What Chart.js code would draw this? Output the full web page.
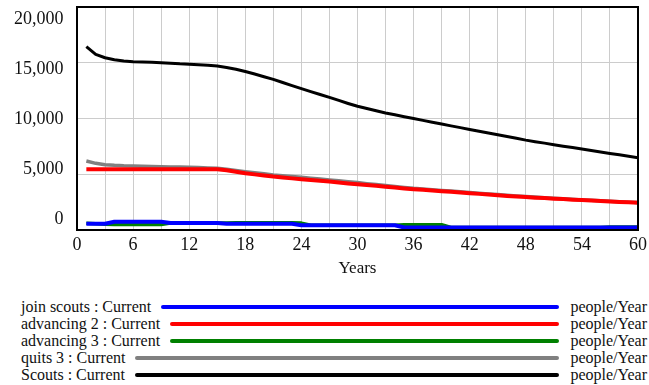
<!DOCTYPE html>
<html>
<head>
<meta charset="utf-8">
<script src="https://cdn.jsdelivr.net/npm/chart.js@4/dist/chart.umd.min.js"></script>
<style>
  html, body { margin: 0; padding: 0; background: #fff; }
  #wrap { position: relative; width: 649px; height: 385px; overflow: hidden; }
  #c { position: absolute; left: 0; top: 0; }
  #legend { position: absolute; left: 0; top: 298px; width: 649px; font-family: 'Liberation Serif', serif; font-size: 16px; color: #111; }
  .row { display: flex; align-items: center; height: 17.1px; line-height: 17px; white-space: nowrap; }
  .lab { padding-left: 21px; }
  .ln { flex: 1; height: 4px; margin: 0 11px 0 10px; border-radius: 2px; }
  .unit { padding-right: 2px; }
</style>
</head>
<body>
<div id="wrap">
  <canvas id="c" width="649" height="290"></canvas>
  <div id="legend"></div>
</div>
<script>
const years = [1,2,3,4,5,6,7,8,9,10,11,12,13,14,15,16,17,18,19,20,21,22,23,24,25,26,27,28,29,30,31,32,33,34,35,36,37,38,39,40,41,42,43,44,45,46,47,48,49,50,51,52,53,54,55,56,57,58,59,60];

const seriesNames = ["join scouts : Current", "advancing 2 : Current", "advancing 3 : Current", "quits 3 : Current", "Scouts : Current"];
const unitLabel = "people/Year";
const xTitle = "Years";

const joinScouts = [560,560,560,740,740,740,740,740,740,620,620,620,620,620,620,560,560,560,560,560,560,560,560,420,420,420,420,420,420,420,420,420,420,420,230,230,230,230,230,230,230,230,230,230,230,230,230,230,230,230,230,230,230,230,230,230,230,230,230,230];

const advancing2 = [5440,5440,5440,5440,5440,5440,5440,5440,5440,5440,5440,5440,5440,5440,5440,5360,5230,5090,4990,4890,4790,4710,4630,4550,4480,4410,4340,4260,4180,4110,4030,3960,3880,3810,3730,3660,3600,3540,3480,3420,3360,3300,3240,3180,3120,3060,3010,2950,2900,2860,2810,2770,2720,2680,2640,2600,2560,2520,2480,2440];

const advancing3 = [600,560,520,500,500,500,500,500,500,620,620,620,620,620,620,620,640,640,640,640,650,650,650,620,420,420,420,420,420,420,420,420,420,420,470,470,470,470,470,230,230,230,230,230,230,230,230,230,230,230,230,230,230,230,230,230,260,260,260,260];

const quits3 = [6190,5980,5860,5800,5760,5740,5720,5700,5680,5660,5640,5625,5600,5570,5540,5450,5340,5230,5130,5040,4940,4870,4800,4730,4650,4570,4490,4410,4330,4250,4160,4080,3990,3910,3820,3740,3680,3610,3550,3490,3420,3360,3300,3240,3180,3120,3060,3000,2950,2900,2850,2800,2750,2700,2660,2620,2580,2540,2500,2460];

const scouts = [16450,15750,15450,15270,15150,15080,15060,15040,15010,14950,14900,14870,14820,14770,14700,14580,14420,14220,13990,13750,13510,13230,12950,12680,12410,12150,11900,11620,11350,11100,10890,10690,10500,10330,10160,10000,9830,9670,9510,9340,9180,9020,8860,8700,8540,8380,8220,8060,7920,7790,7650,7520,7390,7260,7130,7000,6870,6740,6610,6480];

const yTickValues = [0, 5000, 10000, 15000, 20000];

const seriesData = [joinScouts, advancing2, advancing3, quits3, scouts];
const seriesColors = ["#0000ff", "#ff0000", "#008000", "#808080", "#000000"];
const seriesWidths = [4, 4, 3.5, 3.5, 3];

const FONT = "'Liberation Serif', serif";
const TEXT = "#111";

const datasets = seriesData.map((arr, i) => ({
  label: seriesNames[i],
  data: years.map((t, k) => ({ x: t, y: arr[k] })),
  borderColor: seriesColors[i],
  backgroundColor: seriesColors[i],
  borderWidth: seriesWidths[i],
  pointRadius: 0,
  tension: 0,
  fill: false,
  yAxisID: 'y'
}));

const framePlugin = {
  id: 'frame',
  afterDatasetsDraw(chart) {
    const a = chart.chartArea, ctx = chart.ctx;
    ctx.save();
    ctx.strokeStyle = '#000';
    ctx.lineWidth = 2;
    ctx.strokeRect(a.left, a.top, a.right - a.left, a.bottom - a.top);
    ctx.restore();
  }
};

function noPad(s) { s.paddingTop = 0; s.paddingBottom = 0; s.paddingLeft = 0; s.paddingRight = 0; }

new Chart(document.getElementById('c'), {
  type: 'line',
  data: { datasets },
  plugins: [framePlugin],
  options: {
    responsive: false,
    animation: false,
    devicePixelRatio: 1,
    layout: { padding: { top: 7, right: 11, left: 0, bottom: 0 } },
    plugins: { legend: { display: false }, tooltip: { enabled: false } },
    elements: { line: { borderCapStyle: 'butt', borderJoinStyle: 'round' } },
    scales: {
      x: {
        type: 'linear', min: 0, max: 60,
        ticks: {
          stepSize: 3, autoSkip: false, maxRotation: 0, padding: 4,
          font: { family: FONT, size: 18 }, color: TEXT,
          callback: v => (v % 6 === 0 ? String(v) : '')
        },
        grid: { color: '#cccccc', lineWidth: 1, drawTicks: false },
        border: { display: false },
        title: { display: true, text: xTitle, font: { family: FONT, size: 17 }, color: TEXT, padding: { top: 0, bottom: 11 } },
        afterFit: s => { s.height = 60; noPad(s); }
      },
      y: {
        type: 'linear', position: 'left', min: 0, max: 20000,
        ticks: { stepSize: 5000, display: false },
        grid: { color: '#cccccc', lineWidth: 1, drawTicks: false },
        border: { display: false },
        afterFit: s => { s.width = 0; noPad(s); }
      },
      yl: {
        type: 'linear', position: 'left', display: true, min: -1100, max: 21200,
        afterBuildTicks: s => { s.ticks = yTickValues.map(v => ({ value: v })); },
        ticks: {
          display: true, autoSkip: false, padding: 13.5,
          font: { family: FONT, size: 18 }, color: TEXT,
          callback: v => v.toLocaleString('en-US')
        },
        grid: { display: false, drawTicks: false },
        border: { display: false },
        afterFit: s => { s.width = 77; noPad(s); }
      }
    }
  }
});

const legend = document.getElementById('legend');
seriesNames.forEach((name, i) => {
  const row = document.createElement('div');
  row.className = 'row';
  const lab = document.createElement('span');
  lab.className = 'lab';
  lab.textContent = name;
  const ln = document.createElement('span');
  ln.className = 'ln';
  ln.style.background = seriesColors[i];
  const unit = document.createElement('span');
  unit.className = 'unit';
  unit.textContent = unitLabel;
  row.appendChild(lab); row.appendChild(ln); row.appendChild(unit);
  legend.appendChild(row);
});
</script>
</body>
</html>
